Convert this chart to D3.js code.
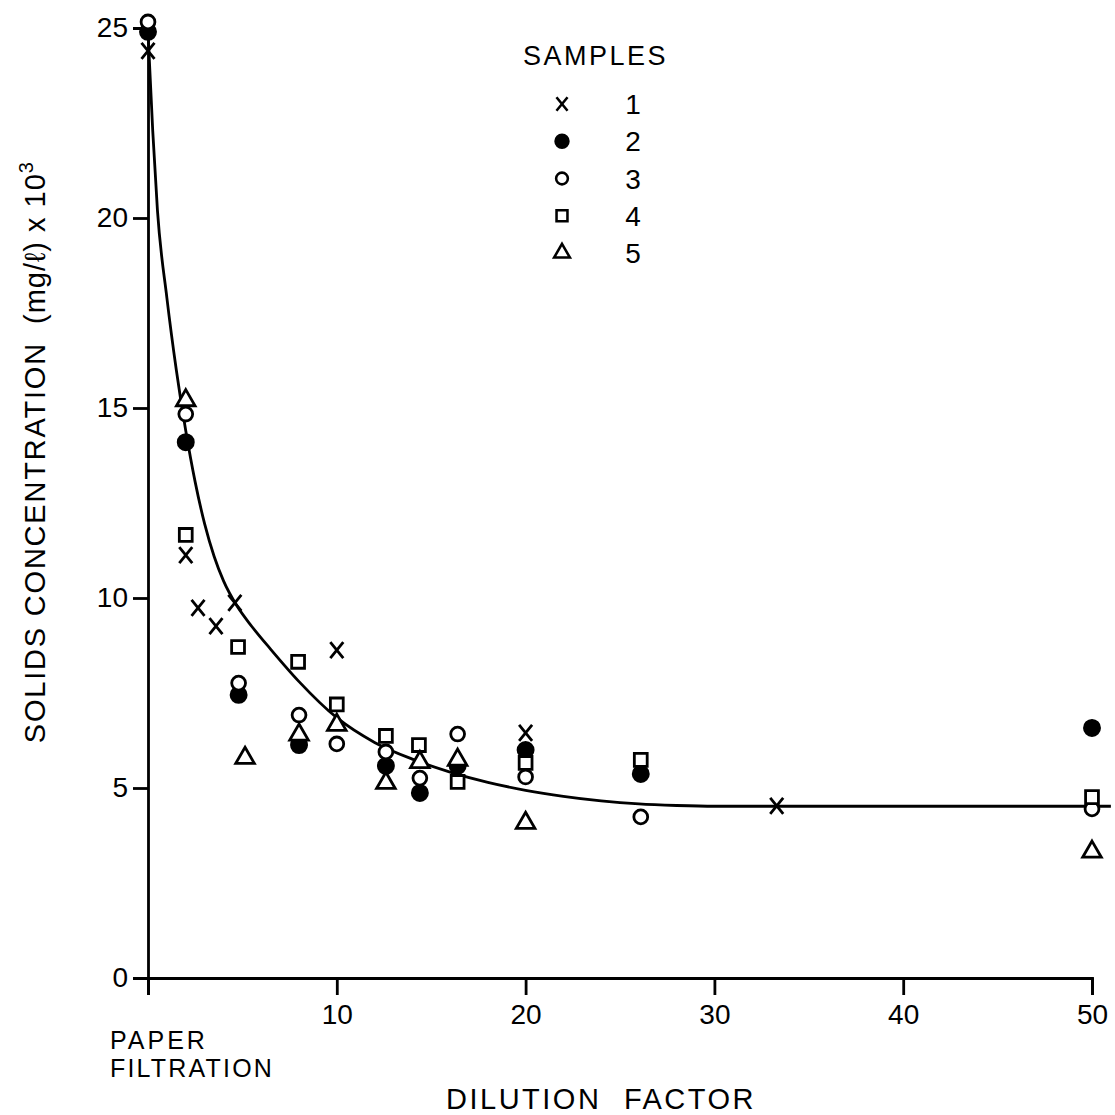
<!DOCTYPE html>
<html>
<head>
<meta charset="utf-8">
<script src="https://cdn.jsdelivr.net/npm/d3@7"></script>
<style>
  body { margin: 0; background: #fff; }
  text { font-family: "Liberation Sans", Arial, sans-serif; fill: #000; }
</style>
</head>
<body>
<script>
// sample readings (dilution factor, solids conc x 10^3)
const s1x = [0, 2, 2.65, 3.6, 4.6, 10, 20, 33.3]
const s1y = [24.4, 11.13, 9.74, 9.26, 9.87, 8.63, 6.45, 4.53]
const s2x = [0, 2, 4.8, 8, 12.6, 14.4, 16.4, 20, 26.1, 50]
const s2y = [24.9, 14.1, 7.45, 6.13, 5.58, 4.87, 5.58, 6.0, 5.37, 6.58]
const s3x = [0, 2, 4.8, 8, 10, 12.6, 14.4, 16.4, 20, 26.1, 50]
const s3y = [25.16, 14.84, 7.76, 6.92, 6.16, 5.95, 5.26, 6.42, 5.29, 4.24, 4.45]
const s4x = [2, 4.77, 7.95, 10, 12.6, 14.35, 16.4, 20, 26.1, 50]
const s4y = [11.66, 8.71, 8.32, 7.2, 6.37, 6.13, 5.16, 5.66, 5.74, 4.76]
const s5x = [2, 5.14, 8, 10, 12.6, 14.4, 16.4, 20, 50]
const s5y = [15.2, 5.79, 6.4, 6.66, 5.13, 5.68, 5.74, 4.08, 3.32]

// fitted curve
const fitX = [0, 0.25, 0.5, 1, 1.5, 2, 2.5, 3, 3.5, 4, 4.7, 5.5, 6.5, 8, 10, 12, 14, 16, 18, 20, 22, 24, 26, 28, 30, 40, 51]
const fitY = [24.9, 22.3, 20.2, 17.9, 16.0, 14.4, 13.05, 11.95, 11.1, 10.45, 9.8, 9.25, 8.65, 7.8, 6.85, 6.2, 5.76, 5.42, 5.15, 4.94, 4.78, 4.66, 4.58, 4.54, 4.52, 4.52, 4.52]

const xTicks = [0, 10, 20, 30, 40, 50]
const xTickLabels = ['', '10', '20', '30', '40', '50']
const yTicks = [0, 5, 10, 15, 20, 25]
const sampleNames = ['1', '2', '3', '4', '5']

const W = 1115, H = 1115

const x = d3.scaleLinear().domain([0, 50]).range([148, 1092])
const y = d3.scaleLinear().domain([0, 25]).range([978, 28])

const svg = d3.select('body').append('svg').attr('width', W).attr('height', H)

// axes
const xAxis = d3.axisBottom(x).tickValues(xTicks).tickFormat((d, i) => xTickLabels[i])
  .tickSizeOuter(0).tickSize(17).tickPadding(9)
const yAxis = d3.axisLeft(y).tickValues(yTicks).tickSizeOuter(0).tickSize(15).tickPadding(5)

const gx = svg.append('g').attr('transform', 'translate(0,' + y(0) + ')').call(xAxis)
const gy = svg.append('g').attr('transform', 'translate(' + x(0) + ',0)').call(yAxis)
;[gx, gy].forEach(g => {
  g.selectAll('path, line').attr('stroke', '#000').attr('stroke-width', 2.8)
  g.selectAll('text').attr('font-size', 28).attr('font-family', '"Liberation Sans", Arial, sans-serif').attr('fill', '#000')
})

// axis titles
svg.append('text').attr('x', 110).attr('y', 1049).attr('font-size', 25).attr('letter-spacing', 3).text('PAPER')
svg.append('text').attr('x', 110).attr('y', 1077).attr('font-size', 25).attr('letter-spacing', 2.2).text('FILTRATION')
svg.append('text').attr('x', 601).attr('y', 1109).attr('font-size', 29)
  .attr('text-anchor', 'middle').attr('letter-spacing', 2.5).attr('word-spacing', 12).text('DILUTION FACTOR')

const yt = svg.append('text').attr('transform', 'translate(45,162) rotate(-90)')
  .attr('text-anchor', 'end').attr('font-size', 29)
yt.append('tspan').attr('letter-spacing', 1.8).text('SOLIDS CONCENTRATION')
yt.append('tspan').attr('dx', 18).attr('letter-spacing', 1).text('(mg/ℓ) x 10')
yt.append('tspan').attr('dy', -12).attr('font-size', 20).text('3')

// fitted curve
const line = d3.line().x(d => x(d[0])).y(d => y(d[1])).curve(d3.curveMonotoneX)
svg.append('path')
  .datum(fitX.map((v, i) => [v, fitY[i]]))
  .attr('d', line)
  .attr('fill', 'none').attr('stroke', '#000').attr('stroke-width', 2.8)

// markers
const xMark = 'M-6.5,-8L6.5,8M-6.5,8L6.5,-8'
const shapes = [
  { d: xMark, fill: 'none' },
  { d: d3.symbol(d3.symbolCircle, 180)(), fill: '#000' },
  { d: d3.symbol(d3.symbolCircle, 150)(), fill: '#fff' },
  { d: d3.symbol(d3.symbolSquare, 165)(), fill: '#fff' },
  { d: d3.symbol(d3.symbolTriangle, 150)(), fill: '#fff' }
]
const series = [[s1x, s1y], [s2x, s2y], [s3x, s3y], [s4x, s4y], [s5x, s5y]]

series.forEach((s, k) => {
  svg.append('g').selectAll('path')
    .data(s[0].map((v, i) => [v, s[1][i]]))
    .enter().append('path')
      .attr('transform', d => 'translate(' + x(d[0]) + ',' + y(d[1]) + ')')
      .attr('d', shapes[k].d)
      .attr('fill', shapes[k].fill)
      .attr('stroke', '#000')
      .attr('stroke-width', 2.8)
})

// legend
svg.append('text').attr('x', 523).attr('y', 65).attr('font-size', 27).attr('letter-spacing', 2.5).text('SAMPLES')
const legY = d3.scalePoint().domain(sampleNames).range([104, 253])
const leg = svg.append('g').selectAll('g').data(sampleNames).enter().append('g')
  .attr('transform', d => 'translate(0,' + legY(d) + ')')
leg.append('path')
  .attr('transform', 'translate(562,0) scale(0.85)')
  .attr('d', (d, i) => shapes[i].d)
  .attr('fill', (d, i) => shapes[i].fill)
  .attr('stroke', '#000').attr('stroke-width', 3)
leg.append('text').attr('x', 633).attr('y', 10).attr('text-anchor', 'middle')
  .attr('font-size', 28).text(d => d)
</script>
</body>
</html>
